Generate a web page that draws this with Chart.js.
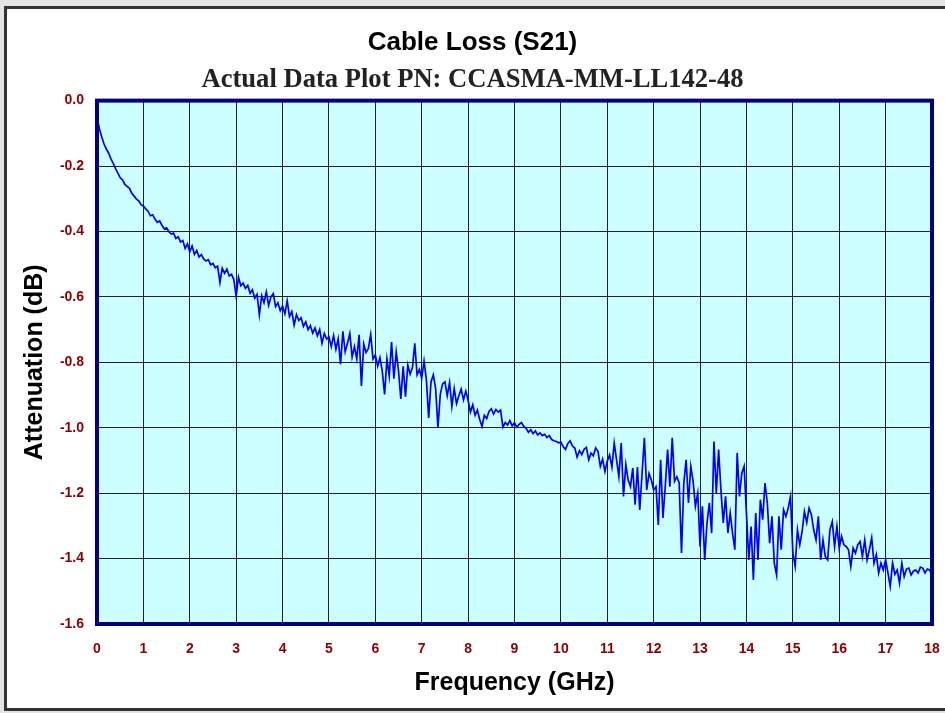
<!DOCTYPE html>
<html>
<head>
<meta charset="utf-8">
<script src="https://cdn.jsdelivr.net/npm/chart.js@4.4.1/dist/chart.umd.min.js"></script>
<style>
    html, body {
        margin: 0;
        padding: 0;
        background: #e4e4e2;
        width: 945px;
        height: 713px;
        overflow: hidden;
    }
    .card {
        position: absolute;
        left: 4px;
        top: 6px;
        width: 980px;
        height: 705px;
        background: #fff;
        border: 3px solid #333;
        box-sizing: border-box;
    }
    #chart {
        position: absolute;
        left: 0;
        top: 0;
    }
</style>
</head>
<body>
<div class="card"></div>
<canvas id="chart" width="945" height="713"></canvas>
<script>
// sweep: 0 .. 18 GHz, one reading every 0.05 GHz
const FREQ_STEP_GHZ = 0.05;

// S21 in dB (10 readings = 0.5 GHz per row)
const s21Db = [
    -0.050,-0.085,-0.110,-0.132,-0.148,-0.160,-0.178,-0.192,-0.208,-0.222, // 0.0
    -0.236,-0.242,-0.256,-0.262,-0.268,-0.283,-0.292,-0.301,-0.306,-0.318, // 0.5
    -0.322,-0.331,-0.338,-0.352,-0.349,-0.362,-0.372,-0.368,-0.381,-0.392, // 1.0
    -0.389,-0.401,-0.408,-0.405,-0.421,-0.416,-0.432,-0.428,-0.452,-0.438, // 1.5
    -0.462,-0.444,-0.470,-0.458,-0.478,-0.471,-0.484,-0.490,-0.486,-0.502, // 2.0
    -0.498,-0.511,-0.506,-0.556,-0.512,-0.528,-0.515,-0.536,-0.531,-0.547, // 2.5
    -0.598,-0.540,-0.566,-0.558,-0.574,-0.565,-0.589,-0.578,-0.604,-0.592, // 3.0
    -0.655,-0.596,-0.618,-0.585,-0.626,-0.600,-0.590,-0.630,-0.618,-0.642, // 3.5
    -0.628,-0.652,-0.612,-0.660,-0.645,-0.686,-0.654,-0.672,-0.664,-0.690, // 4.0
    -0.676,-0.700,-0.688,-0.711,-0.695,-0.719,-0.700,-0.742,-0.712,-0.729, // 4.5
    -0.722,-0.752,-0.718,-0.760,-0.728,-0.806,-0.705,-0.768,-0.742,-0.712, // 5.0
    -0.784,-0.752,-0.790,-0.716,-0.872,-0.744,-0.770,-0.758,-0.715,-0.790, // 5.5
    -0.778,-0.812,-0.786,-0.828,-0.898,-0.790,-0.842,-0.738,-0.850,-0.768, // 6.0
    -0.826,-0.912,-0.812,-0.905,-0.808,-0.836,-0.816,-0.742,-0.838,-0.822, // 6.5
    -0.848,-0.796,-0.852,-0.970,-0.860,-0.838,-0.880,-1.000,-0.898,-0.866, // 7.0
    -0.860,-0.902,-0.862,-0.935,-0.880,-0.926,-0.902,-0.882,-0.915,-0.888, // 7.5
    -0.916,-0.952,-0.930,-0.962,-0.946,-0.975,-0.996,-0.962,-0.972,-0.950, // 8.0
    -0.942,-0.958,-0.944,-0.952,-0.946,-0.998,-0.984,-0.992,-0.978,-0.994, // 8.5
    -0.985,-0.998,-0.990,-0.984,-0.996,-1.002,-1.014,-1.006,-1.018,-1.010, // 9.0
    -1.022,-1.016,-1.024,-1.020,-1.030,-1.024,-1.036,-1.040,-1.042,-1.046, // 9.5
    -1.044,-1.058,-1.066,-1.048,-1.040,-1.056,-1.062,-1.090,-1.070,-1.082, // 10.0
    -1.066,-1.060,-1.098,-1.078,-1.086,-1.062,-1.072,-1.118,-1.096,-1.134, // 10.5
    -1.102,-1.083,-1.120,-1.047,-1.098,-1.149,-1.047,-1.210,-1.113,-1.160, // 11.0
    -1.180,-1.123,-1.235,-1.120,-1.251,-1.140,-1.031,-1.190,-1.140,-1.160, // 11.5
    -1.190,-1.180,-1.297,-1.098,-1.276,-1.180,-1.067,-1.180,-1.031,-1.164, // 12.0
    -1.150,-1.169,-1.383,-1.169,-1.098,-1.230,-1.118,-1.164,-1.240,-1.200, // 12.5
    -1.363,-1.240,-1.404,-1.291,-1.230,-1.322,-1.042,-1.200,-1.067,-1.190, // 13.0
    -1.291,-1.210,-1.322,-1.261,-1.322,-1.373,-1.077,-1.210,-1.139,-1.118, // 13.5
    -1.261,-1.404,-1.302,-1.465,-1.261,-1.404,-1.220,-1.281,-1.169,-1.230, // 14.0
    -1.353,-1.271,-1.414,-1.450,-1.271,-1.373,-1.251,-1.271,-1.246,-1.210, // 14.5
    -1.383,-1.424,-1.312,-1.358,-1.317,-1.256,-1.290,-1.246,-1.266,-1.312, // 15.0
    -1.343,-1.271,-1.404,-1.343,-1.394,-1.404,-1.312,-1.287,-1.363,-1.302, // 15.5
    -1.368,-1.332,-1.358,-1.363,-1.373,-1.424,-1.368,-1.383,-1.358,-1.348, // 16.0
    -1.394,-1.343,-1.404,-1.373,-1.337,-1.414,-1.388,-1.444,-1.414,-1.435, // 16.5
    -1.404,-1.444,-1.485,-1.414,-1.448,-1.435,-1.475,-1.414,-1.455,-1.432, // 17.0
    -1.429,-1.450,-1.438,-1.435,-1.444,-1.426,-1.429,-1.444,-1.432,-1.435, // 17.5
    -1.450                                                                 // 18.0
];

const freqGHz = s21Db.map((_, i) => +(i * FREQ_STEP_GHZ).toFixed(2));

const xTickLabels = ['0','1','2','3','4','5','6','7','8','9','10','11','12','13','14','15','16','17','18'];
const yTickLabels = ['0.0','-0.2','-0.4','-0.6','-0.8','-1.0','-1.2','-1.4','-1.6'];

const tickRed = '#8b0000';
const navy = '#000080';
const sans = "'Liberation Sans', Arial, sans-serif";

// cyan plot background + the heavy navy frame round the plot area
const plotFrame = {
    id: 'plotFrame',
    beforeDraw(chart) {
        const {ctx, chartArea: a} = chart;
        ctx.save();
        ctx.fillStyle = '#ccffff';
        ctx.fillRect(a.left, a.top, a.right - a.left, a.bottom - a.top);
        ctx.restore();
    },
    afterDatasetsDraw(chart) {
        const {ctx, chartArea: a} = chart;
        ctx.save();
        ctx.lineWidth = 4;
        ctx.strokeStyle = navy;
        ctx.strokeRect(a.left, a.top, a.right - a.left, a.bottom - a.top);
        ctx.restore();
    }
};

new Chart(document.getElementById('chart').getContext('2d'), {
    type: 'line',
    data: {
        datasets: [{
            label: 'S21',
            data: freqGHz.map((f, i) => ({x: f, y: s21Db[i]})),
            borderColor: '#0000ff',
            borderWidth: 1.7,
            pointRadius: 0,
            tension: 0,
            fill: false
        }]
    },
    options: {
        responsive: false,
        animation: false,
        devicePixelRatio: 1,
        layout: {
            padding: {left: 13, top: 0, right: 13, bottom: 0}
        },
        plugins: {
            legend: {display: false},
            tooltip: {enabled: false},
            title: {
                display: true,
                text: 'Cable Loss (S21)',
                color: '#000',
                font: {family: sans, size: 26, weight: 'bold'},
                padding: {top: 27, bottom: 0}
            },
            subtitle: {
                display: true,
                text: 'Actual Data Plot PN: CCASMA-MM-LL142-48',
                color: '#222',
                font: {family: "'Liberation Serif', 'Times New Roman', serif", size: 26.6, weight: 'bold'},
                padding: {top: 5.5, bottom: 5}
            }
        },
        scales: {
            x: {
                type: 'linear',
                min: 0,
                max: 18,
                afterFit: (scale) => {
                    scale.height = 89;
                    scale.paddingLeft = 0;
                    scale.paddingRight = 0;
                },
                border: {display: false},
                grid: {color: '#222', lineWidth: 1, drawTicks: false},
                ticks: {
                    stepSize: 1,
                    padding: 16.5,
                    color: tickRed,
                    maxRotation: 0,
                    font: {family: sans, size: 14, weight: 'bold'},
                    callback: (v) => xTickLabels[Math.round(v)]
                },
                title: {
                    display: true,
                    text: 'Frequency (GHz)',
                    color: '#000',
                    font: {family: sans, size: 25, weight: 'bold'},
                    padding: {top: 0, bottom: 15}
                }
            },
            y: {
                min: -1.6,
                max: 0,
                afterFit: (scale) => {
                    scale.width = 84;
                    scale.paddingTop = 0;
                    scale.paddingBottom = 0;
                },
                border: {display: false},
                grid: {color: '#222', lineWidth: 1, drawTicks: false},
                ticks: {
                    stepSize: 0.2,
                    padding: 13,
                    color: tickRed,
                    font: {family: sans, size: 14, weight: 'bold'},
                    callback: (v) => yTickLabels[Math.round(-v / 0.2)]
                },
                title: {
                    display: true,
                    text: 'Attenuation (dB)',
                    color: '#000',
                    font: {family: sans, size: 25, weight: 'bold'},
                    padding: {top: 7, bottom: 0}
                }
            }
        }
    },
    plugins: [plotFrame]
});
</script>
</body>
</html>
